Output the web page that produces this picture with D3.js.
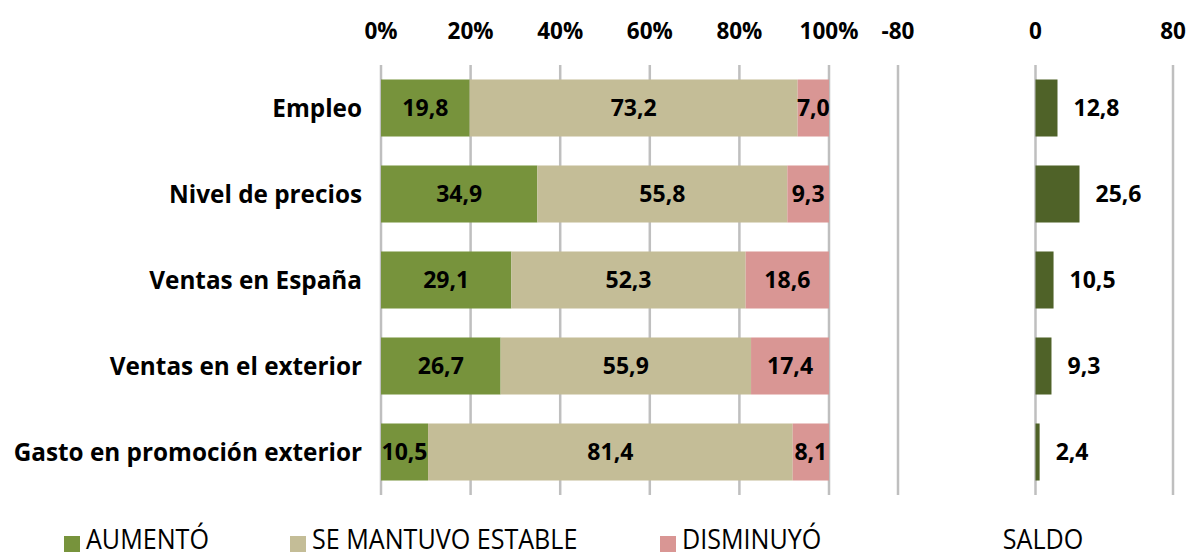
<!DOCTYPE html>
<html><head><meta charset="utf-8">
<script src="https://cdn.jsdelivr.net/npm/d3@7"></script>
<style>body{margin:0;background:#fff}svg{display:block}</style>
</head><body><svg id="c" width="1189" height="556"></svg>
<script>
const categories = ["Empleo","Nivel de precios","Ventas en España","Ventas en el exterior","Gasto en promoción exterior"];
const aumento = [19.8,34.9,29.1,26.7,10.5];
const estable = [73.2,55.8,52.3,55.9,81.4];
const disminuyo = [7.0,9.3,18.6,17.4,8.1];
const saldo = [12.8,25.6,10.5,9.3,2.4];
const pctTicks = [0,20,40,60,80,100];
const saldoTicks = [-80,0,80];
const seriesNames = ["AUMENTÓ","SE MANTUVO ESTABLE","DISMINUYÓ"];
const saldoName = "SALDO";

const colors = ["#77933c","#c4bd97","#d99694"];
const saldoColor = "#4f6228";
const font = "'Open Sans', sans-serif";
const fmt = v => v.toFixed(1).replace(".", ",");

const svg = d3.select("#c");
const x = d3.scaleLinear().domain([0,100]).range([381,829]);
const xs = d3.scaleLinear().domain([-80,80]).range([898,1173]);
const y = d3.scaleBand().domain(categories).range([65,495]).paddingInner(0.337).paddingOuter(0.1685);

// gridlines
const grid = "#bfbfbf";
svg.append("g").selectAll("line").data(pctTicks).join("line")
  .attr("x1", d=>x(d)).attr("x2", d=>x(d)).attr("y1",65).attr("y2",495)
  .attr("stroke",grid).attr("stroke-width",2.5);
svg.append("g").selectAll("line").data(saldoTicks).join("line")
  .attr("x1", d=>xs(d)).attr("x2", d=>xs(d)).attr("y1",65).attr("y2",495)
  .attr("stroke",grid).attr("stroke-width",2.5);

// axis labels
const tickSize = 22.5;
svg.append("g").selectAll("text").data(pctTicks).join("text")
  .attr("x", d=>x(d)).attr("y",39).attr("text-anchor","middle")
  .attr("font-family",font).attr("font-weight","bold").attr("font-size",tickSize).attr("fill","#000")
  .text(d=>d+"%");
svg.append("g").selectAll("text").data(saldoTicks).join("text")
  .attr("x", d=>xs(d)).attr("y",39).attr("text-anchor","middle")
  .attr("font-family",font).attr("font-weight","bold").attr("font-size",tickSize).attr("fill","#000")
  .text(d=>d);

// stacked bars
const valSize = 23;
const rows = categories.map((c,i)=>({c, vals:[aumento[i],estable[i],disminuyo[i]]}));
rows.forEach(r=>{
  let acc=0;
  r.vals.forEach((v,k)=>{
    const g = svg.append("g");
    g.append("rect").attr("x",x(acc)).attr("width",x(acc+v)-x(acc))
      .attr("y",y(r.c)).attr("height",y.bandwidth()).attr("fill",colors[k]);
    g.append("text").attr("x",(x(acc)+x(acc+v))/2).attr("y",y(r.c)+y.bandwidth()/2)
      .attr("dy","0.36em").attr("text-anchor","middle")
      .attr("font-family",font).attr("font-weight","bold").attr("font-size",valSize).attr("fill","#000")
      .text(fmt(v));
    acc+=v;
  });
});

// category labels
svg.append("g").selectAll("text").data(categories).join("text")
  .attr("x",362).attr("y",d=>y(d)+y.bandwidth()/2).attr("dy","0.36em").attr("text-anchor","end")
  .attr("font-family",font).attr("font-weight","bold").attr("font-size",24.3).attr("fill","#000")
  .text(d=>d);

// saldo bars
svg.append("g").selectAll("rect").data(saldo).join("rect")
  .attr("x",d=>xs(Math.min(0,d))).attr("width",d=>Math.abs(xs(d)-xs(0)))
  .attr("y",(d,i)=>y(categories[i])).attr("height",y.bandwidth()).attr("fill",saldoColor);
svg.append("g").selectAll("text").data(saldo).join("text")
  .attr("x",d=>xs(d)+16).attr("y",(d,i)=>y(categories[i])+y.bandwidth()/2).attr("dy","0.36em")
  .attr("font-family",font).attr("font-weight","bold").attr("font-size",valSize).attr("fill","#000")
  .text(d=>fmt(d));

// legend
const legX = [64,290,660];
const sx = 0.93;
const lg = svg.append("g");
function legText(xp, txt, anchor){
  lg.append("text").attr("transform",`translate(${xp},549) scale(${sx},1)`)
    .attr("text-anchor",anchor)
    .attr("font-family",font).attr("font-size",27).attr("fill","#000").text(txt);
}
seriesNames.forEach((n,k)=>{
  lg.append("rect").attr("x",legX[k]).attr("y",536).attr("width",16).attr("height",16).attr("fill",colors[k]);
  legText(legX[k]+22, n, "start");
});
legText(1043, saldoName, "middle");
</script></body></html>
